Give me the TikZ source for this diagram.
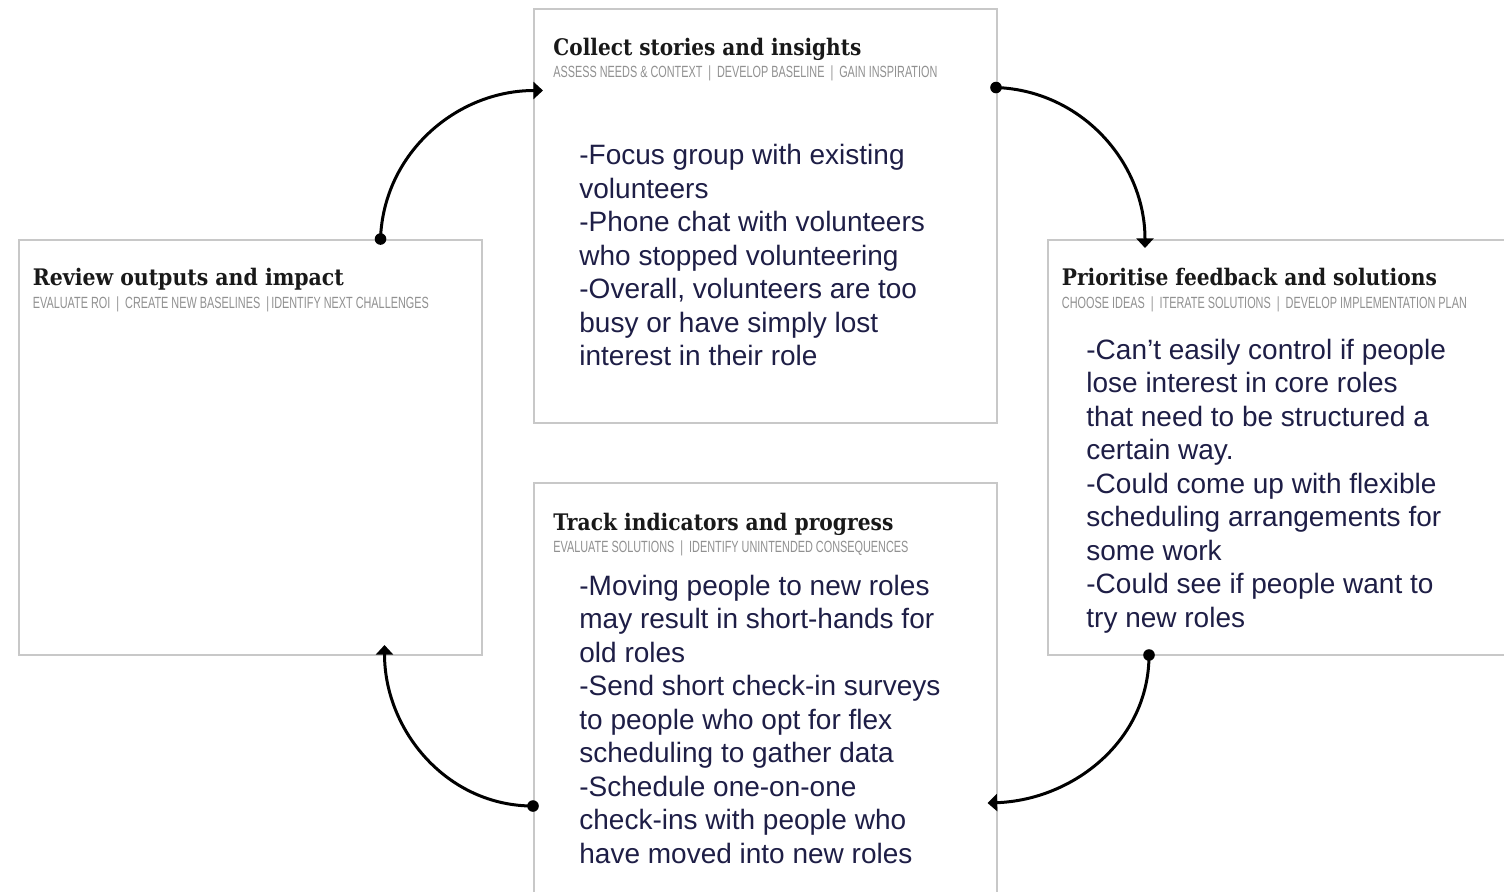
\documentclass[tikz,border=0pt]{standalone}
\usepackage{fontspec}
\setmainfont{Liberation Sans}
\newfontfamily\titlefont{DejaVu Serif}
\newfontfamily\subfont{Liberation Sans}
\usetikzlibrary{arrows.meta}
\definecolor{boxgray}{RGB}{200,200,200}
\definecolor{subgray}{RGB}{145,145,145}
\definecolor{titleblack}{RGB}{25,25,25}
\definecolor{navy}{RGB}{30,30,70}
\newsavebox\fitbox
\newlength\fitlen
\newcommand\fitto[2]{\sbox\fitbox{#2}\setlength\fitlen{\wd\fitbox}\pgfmathsetmacro\fitfac{#1/\fitlen}\scalebox{\fitfac}[1]{\usebox\fitbox}}
\newcommand\sep{\hspace{0.55em}\textbar\hspace{0.55em}}
\newcommand\sepn{\hspace{0.55em}\textbar\hspace{0.2em}}
\tikzset{
  panel/.style={draw=boxgray, line width=0.75pt, fill=white, anchor=north west, inner sep=0pt},
  ttl/.style={anchor=base west, inner sep=0pt, text=titleblack, font=\titlefont\bfseries\fontsize{11.4}{13}\selectfont},
  sub/.style={anchor=base west, inner sep=0pt, text=subgray, font=\subfont\fontsize{8.1}{9}\selectfont},
  body/.style={anchor=base west, inner sep=0pt, text=navy, font=\fontsize{14}{16.75}\selectfont},
  link/.style={line width=1.5pt, -{Triangle[length=4.8pt,width=8.5pt]}},
  dot/.style={fill=black}
}
\begin{document}
\begin{tikzpicture}[x=0.5pt,y=-0.5pt]
\clip (0,0) rectangle (1504,891);
\fill[white] (0,0) rectangle (1504,891);

% panels
\node[panel, minimum width=231.5pt, minimum height=207pt] (collect) at (533,8) {};
\node[panel, minimum width=231.5pt, minimum height=207.5pt] (review) at (18,239) {};
\node[panel, minimum width=231.5pt, minimum height=207.5pt] (prior) at (1047,239) {};
\node[panel, minimum width=231.5pt, minimum height=210pt] (track) at (533,482) {};

% titles
\node[ttl] (t1) at (553,55) {\fitto{154pt}{Collect stories and insights}};
\node[sub] (s1) at (553,77.5) {\fitto{192pt}{ASSESS NEEDS \& CONTEXT\sep DEVELOP BASELINE\sep GAIN INSPIRATION}};
\node[ttl] (t2) at (1061.5,285) {\fitto{187.5pt}{Prioritise feedback and solutions}};
\node[sub] (s2) at (1061.5,308.5) {\fitto{202.5pt}{CHOOSE IDEAS\sep ITERATE SOLUTIONS\sep DEVELOP IMPLEMENTATION PLAN}};
\node[ttl] (t3) at (32.5,285) {\fitto{155.5pt}{Review outputs and impact}};
\node[sub] (s3) at (32.5,308.5) {\fitto{198pt}{EVALUATE ROI\sep CREATE NEW BASELINES\sepn IDENTIFY NEXT CHALLENGES}};
\node[ttl] (t4) at (553,530) {\fitto{170pt}{Track indicators and progress}};
\node[sub] (s4) at (553,552.5) {\fitto{177.5pt}{EVALUATE SOLUTIONS\sep IDENTIFY UNINTENDED CONSEQUENCES}};

% bodies
\node[body] (b1) at (579,164.5) {\begin{tabular}[t]{@{}l@{}}
-Focus group with existing\\
volunteers\\
-Phone chat with volunteers\\
who stopped volunteering\\
-Overall, volunteers are too\\
busy or have simply lost\\
interest in their role\end{tabular}};
\node[body] (b2) at (1086,359) {\begin{tabular}[t]{@{}l@{}}
-Can’t easily control if people\\
lose interest in core roles\\
that need to be structured a\\
certain way.\\
-Could come up with flexible\\
scheduling arrangements for\\
some work\\
-Could see if people want to\\
try new roles\end{tabular}};
\node[body] (b3) at (579,595) {\begin{tabular}[t]{@{}l@{}}
-Moving people to new roles\\
may result in short-hands for\\
old roles\\
-Send short check-in surveys\\
to people who opt for flex\\
scheduling to gather data\\
-Schedule one-on-one\\
check-ins with people who\\
have moved into new roles\end{tabular}};

% connector end points
\coordinate (a1s) at (380.5,239);
\coordinate (a1e) at (543,90.5);
\coordinate (a2s) at (996,87.5);
\coordinate (a2e) at (1145,248);
\coordinate (a3s) at (1149,655);
\coordinate (a3e) at (987.5,803);
\coordinate (a4s) at (533,806);
\coordinate (a4e) at (384.5,645);

\draw[link] (a1s) to[out=88,in=180] (a1e);
\draw[link] (a2s) to[out=-2,in=90] (a2e);
\draw[link] (a3s) to[out=-90,in=2] (a3e);
\draw[link] (a4s) to[out=180,in=-90] (a4e);
\foreach \p in {a1s,a2s,a3s,a4s} \fill[dot] (\p) circle (2.9pt);
\end{tikzpicture}
\end{document}
